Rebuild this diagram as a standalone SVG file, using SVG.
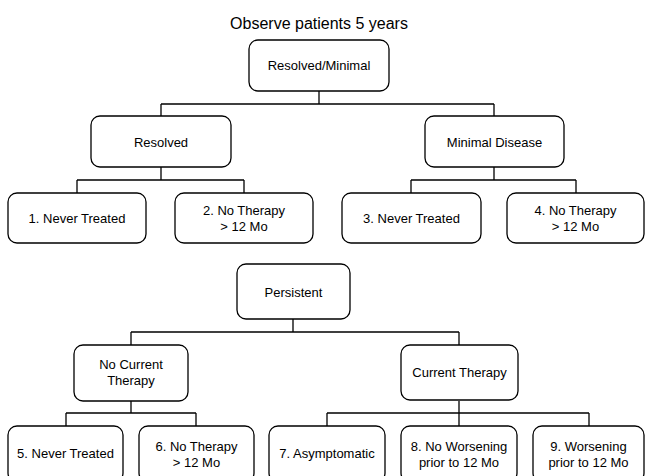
<svg xmlns="http://www.w3.org/2000/svg" width="645" height="476" viewBox="0 0 645 476">
<style>
.box{fill:#fff;stroke:#000;stroke-width:1.3}
.t{font-family:"Liberation Sans",Arial,sans-serif;font-size:13px;fill:#000;text-anchor:middle}
.title{font-family:"Liberation Sans",Arial,sans-serif;font-size:16px;fill:#000;text-anchor:middle}
.c{fill:none;stroke:#000;stroke-width:1.3}
</style>
<rect width="645" height="476" fill="#fff"/>
<text class="title" x="319" y="29">Observe patients 5 years</text>
<g id="connectors" class="c">
<path class="c" d="M319 91V104M161 104H494M161 104V116M494 104V116"/>
<path class="c" d="M161 167V180M77 180H244M77 180V193M244 180V193"/>
<path class="c" d="M494 167V180M411 180H576M411 180V193M576 180V193"/>
<path class="c" d="M293 319V332M131 332H459M131 332V345M459 332V345"/>
<path class="c" d="M131 401V413M66 413H196M66 413V426M196 413V426"/>
<path class="c" d="M459 401V413M327 413H589M327 413V426M459 413V426M589 413V426"/>
</g>
<g id="resolved_minimal"><rect class="box" x="249" y="40" width="140" height="51" rx="9"/><text class="t" x="319" y="70">Resolved/Minimal</text></g>
<g id="resolved"><rect class="box" x="91" y="116" width="140" height="51" rx="9"/><text class="t" x="161" y="147">Resolved</text></g>
<g id="minimal_disease"><rect class="box" x="425" y="116" width="139" height="51" rx="9"/><text class="t" x="494.5" y="147">Minimal Disease</text></g>
<g id="leaf1"><rect class="box" x="8" y="193" width="138" height="50" rx="9"/><text class="t" x="77" y="223">1. Never Treated</text></g>
<g id="leaf2"><rect class="box" x="175" y="193" width="138" height="50" rx="9"/><text class="t" x="244" y="215">2. No Therapy</text><text class="t" x="244" y="231">&gt; 12 Mo</text></g>
<g id="leaf3"><rect class="box" x="342" y="193" width="139" height="50" rx="9"/><text class="t" x="411.5" y="223">3. Never Treated</text></g>
<g id="leaf4"><rect class="box" x="507" y="193" width="137" height="50" rx="9"/><text class="t" x="575.5" y="215">4. No Therapy</text><text class="t" x="575.5" y="231">&gt; 12 Mo</text></g>
<g id="persistent"><rect class="box" x="237" y="264" width="113" height="55" rx="9"/><text class="t" x="293.5" y="297">Persistent</text></g>
<g id="no_current_therapy"><rect class="box" x="74" y="345" width="114" height="56" rx="9"/><text class="t" x="131" y="369">No Current</text><text class="t" x="131" y="385">Therapy</text></g>
<g id="current_therapy"><rect class="box" x="401" y="345" width="117" height="55" rx="9"/><text class="t" x="459.5" y="377">Current Therapy</text></g>
<g id="leaf5"><rect class="box" x="8" y="426" width="115" height="56" rx="9"/><text class="t" x="65.5" y="458">5. Never Treated</text></g>
<g id="leaf6"><rect class="box" x="139" y="426" width="115" height="56" rx="9"/><text class="t" x="196.5" y="451">6. No Therapy</text><text class="t" x="196.5" y="467">&gt; 12 Mo</text></g>
<g id="leaf7"><rect class="box" x="269" y="426" width="116" height="56" rx="9"/><text class="t" x="327" y="458">7. Asymptomatic</text></g>
<g id="leaf8"><rect class="box" x="401" y="426" width="116" height="56" rx="9"/><text class="t" x="459" y="451">8. No Worsening</text><text class="t" x="459" y="467">prior to 12 Mo</text></g>
<g id="leaf9"><rect class="box" x="533" y="426" width="111" height="56" rx="9"/><text class="t" x="588.5" y="451">9. Worsening</text><text class="t" x="588.5" y="467">prior to 12 Mo</text></g>
</svg>
